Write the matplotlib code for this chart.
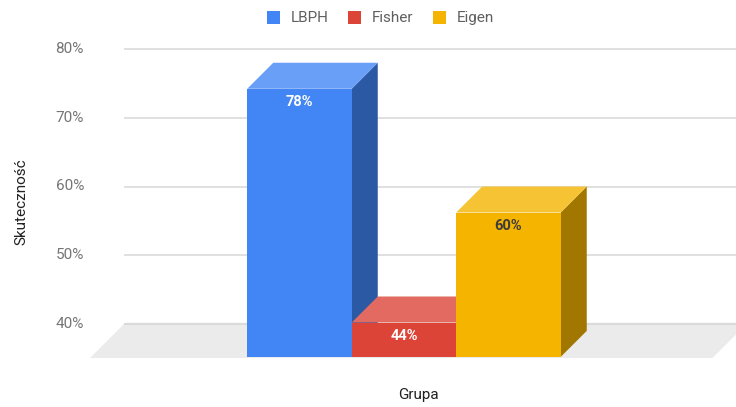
import matplotlib.pyplot as plt
from matplotlib.patches import Polygon, Patch

# dane
categories = ["LBPH", "Fisher", "Eigen"]
values = [78, 44, 60]
labels = ["78%", "44%", "60%"]
y_ticks = [40, 50, 60, 70, 80]

front_colors = ["#4285f4", "#db4437", "#f4b400"]
top_colors = ["#699ff6", "#e26a60", "#f5c333"]
side_colors = ["#2c59a3", "#9a2f27", "#a27700"]
label_colors = ["white", "white", "#3c3c3c"]

plt.rcParams["font.family"] = ["Roboto", "DejaVu Sans"]

# skala: 1 jednostka x = szerokość słupka, y w procentach
PX_X = 104.5
PX_Y = 6.875
W, H = 736, 407
grid_half = 306 / PX_X
depth_x = 26 / PX_X
depth_y = 26 / PX_Y
floor_dx = 34 / PX_X
floor_dy = 34 / PX_Y
base = 39.0

fig = plt.figure(figsize=(W / 100, H / 100), dpi=100)
ax = fig.add_axes([0, 0, 1, 1])
ax.axis("off")
x_left = -grid_half - 124 / PX_X
ax.set_xlim(x_left, x_left + W / PX_X)
y_top = 40 + 324 / PX_Y
ax.set_ylim(y_top - H / PX_Y, y_top)

# linie siatki (tylna ściana)
ax.hlines(y_ticks, -grid_half, grid_half + 0.3, color="#e0e0e0", lw=1.4, zorder=1)
for t in y_ticks:
    ax.text(-grid_half - 40 / PX_X, t, f"{t}%", ha="right", va="center",
            fontsize=11, color="#757575")

# podłoga
floor_r = grid_half + 0.1
floor = Polygon([(-grid_half, 40), (floor_r, 40),
                 (floor_r - floor_dx, 40 - floor_dy),
                 (-grid_half - floor_dx, 40 - floor_dy)],
                closed=True, facecolor="#ebebeb", edgecolor="none", zorder=2)
ax.add_patch(floor)
ax.hlines(40, -grid_half, grid_half + 0.3, color="#dadada", lw=1.6, zorder=2)

# słupki 3D
n = len(categories)
for i, (v, lab) in enumerate(zip(values, labels)):
    x0 = i - n / 2  # lewa krawędź (tył)
    x1 = x0 + 1
    fx0, fx1 = x0 - depth_x, x1 - depth_x
    fb, ft = base - depth_y, v - depth_y
    z = 3 + i
    # bok
    ax.add_patch(Polygon([(fx1, fb), (x1, base), (x1, v), (fx1, ft)],
                         facecolor=side_colors[i], edgecolor="none", zorder=z))
    # góra
    ax.add_patch(Polygon([(fx0, ft), (fx1, ft), (x1, v), (x0, v)],
                         facecolor=top_colors[i], edgecolor="none", zorder=z))
    # przód
    ax.add_patch(Polygon([(fx0, fb), (fx1, fb), (fx1, ft), (fx0, ft)],
                         facecolor=front_colors[i], edgecolor="none", zorder=z))
    ax.text((fx0 + fx1) / 2, ft - 13.5 / PX_Y, lab, ha="center", va="center",
            fontsize=10.5, fontweight="bold", color=label_colors[i], zorder=10)

# osie - podpisy
fig.text(21 / W, 1 - 202 / H, "Skuteczność", rotation=90, ha="center", va="center",
         fontsize=11, color="#222222")
fig.text(418 / W, 1 - 395 / H, "Grupa", ha="center", va="center",
         fontsize=11, color="#222222")

handles = [Patch(facecolor=c, edgecolor="none") for c in front_colors]
fig.legend(handles, categories, loc="center", bbox_to_anchor=(0.517, 1 - 18 / H),
           ncol=3, frameon=False, fontsize=11, handlelength=0.85, handleheight=0.95,
           columnspacing=1.3, handletextpad=0.7, labelcolor="#5f5f5f")

fig.savefig("out.png", dpi=100)
